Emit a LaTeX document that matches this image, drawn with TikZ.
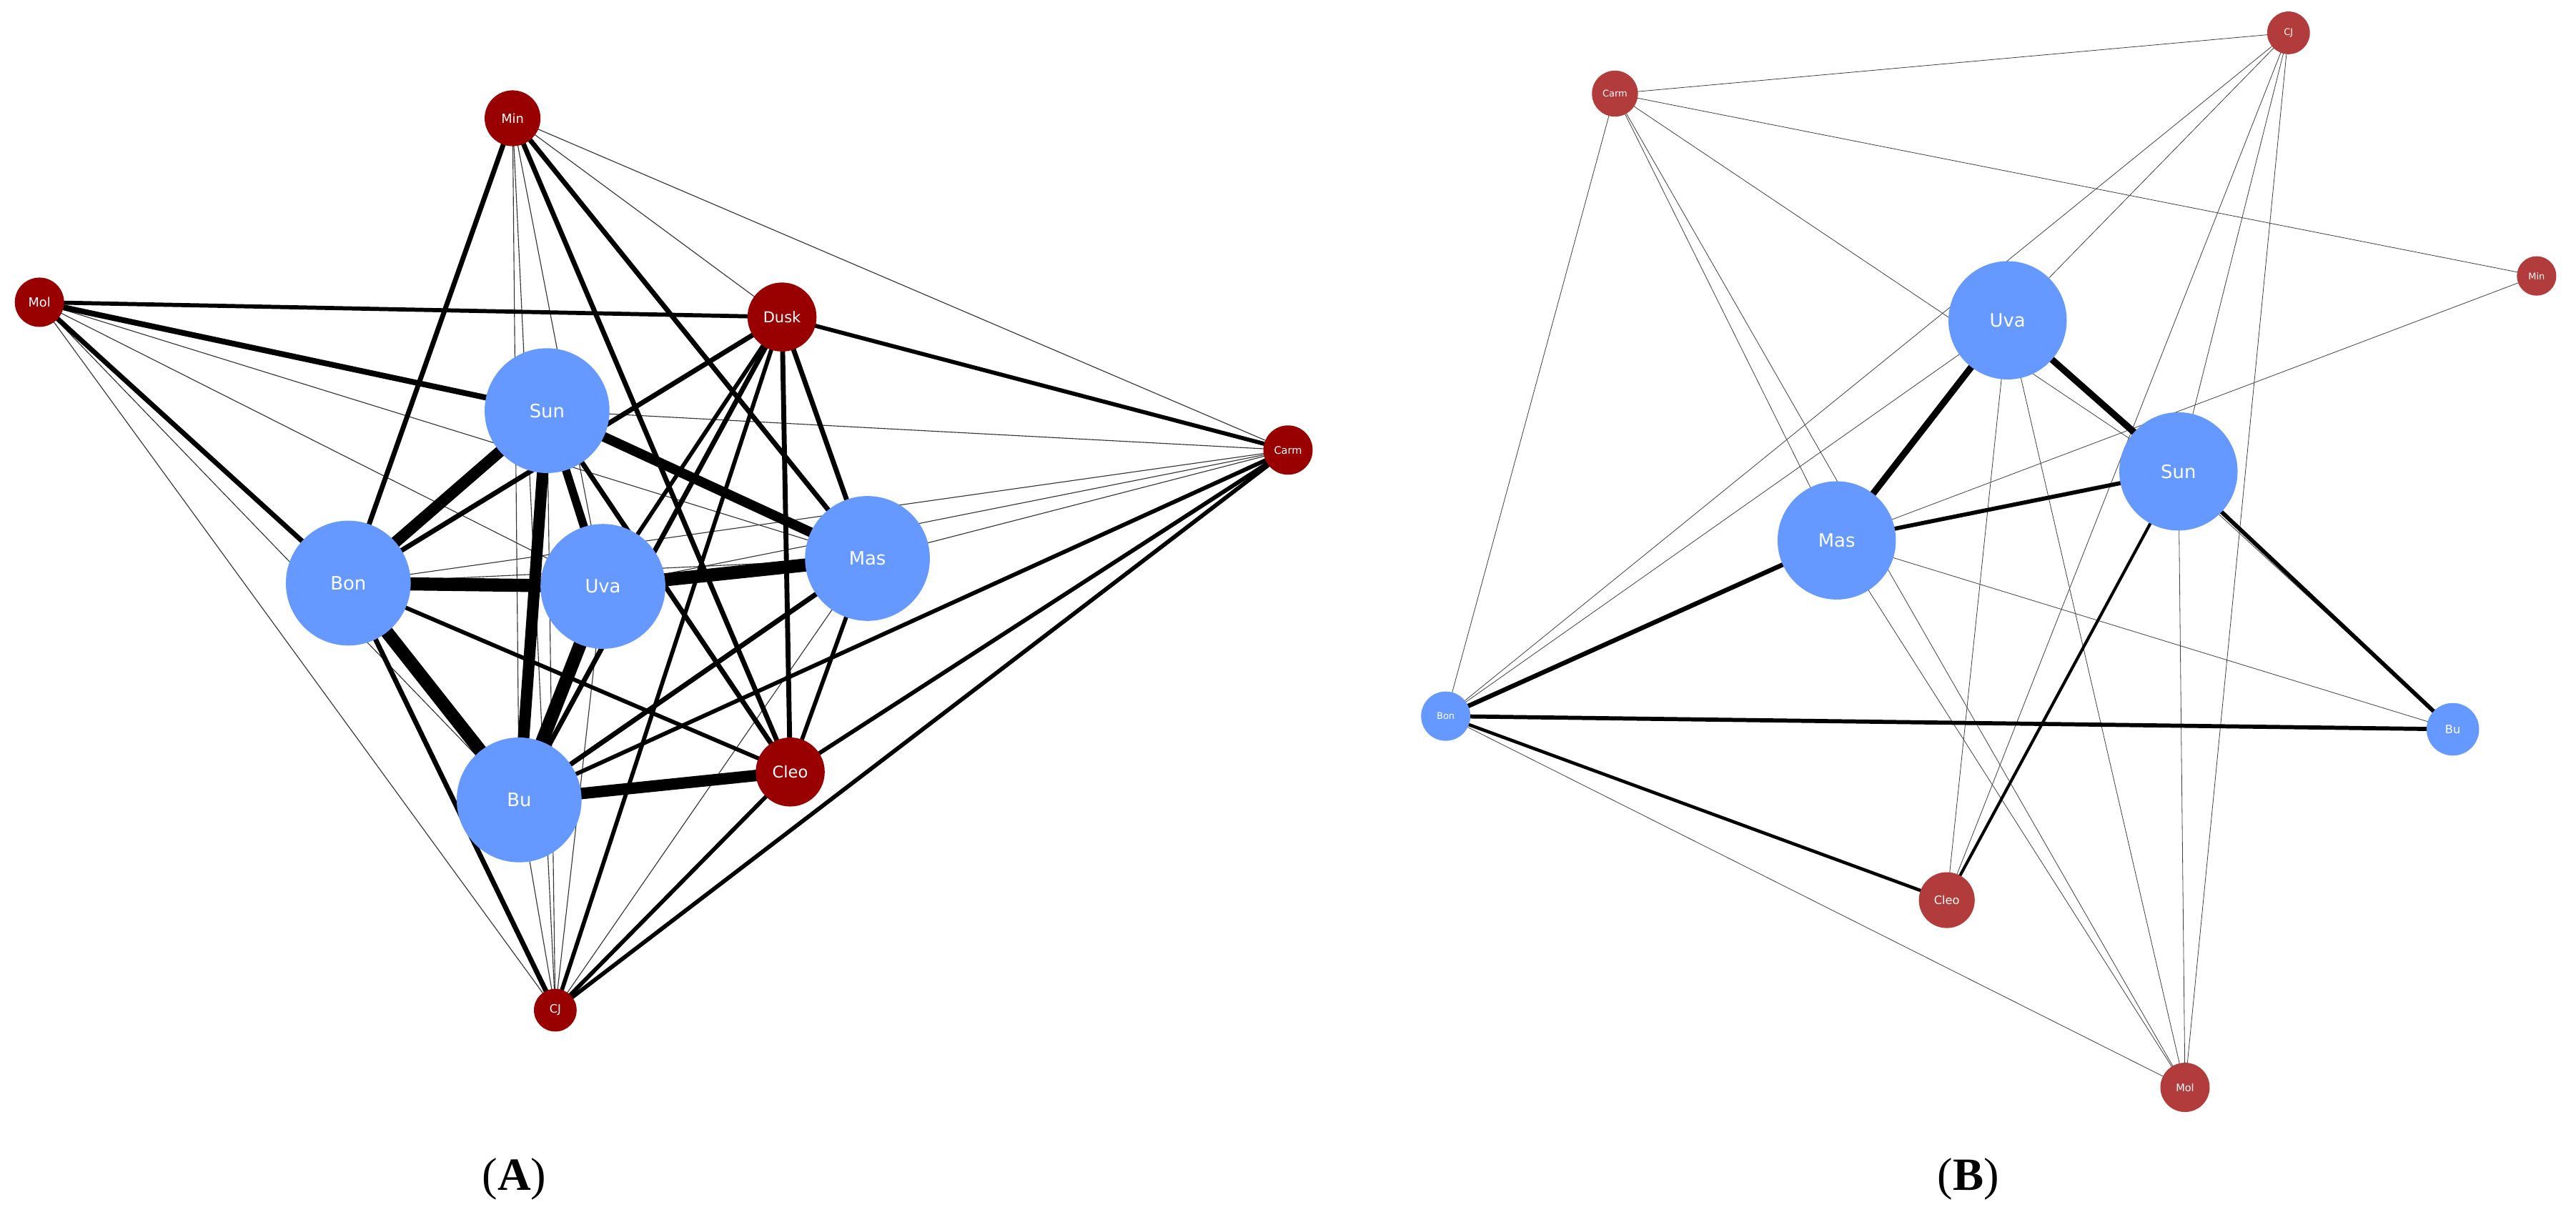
\documentclass[tikz,border=0pt]{standalone}
\usepackage{fontspec}
\setmainfont{Liberation Serif}
\newfontfamily\lab{DejaVu Sans}
\definecolor{bl}{HTML}{6699FF}
\definecolor{ra}{HTML}{990000}
\definecolor{rb}{HTML}{B23B3B}
\begin{document}
\begin{tikzpicture}[x=0.05cm,y=-0.05cm,
 nd/.style={circle,inner sep=0pt,text=white,font=\lab\fontsize{#1}{#1}\selectfont},
 e/.style={line width=#1*1.42pt,black},
 t/.style={line width=0.7pt,black!80}]
\useasboundingbox (0,0) rectangle (1568,740.5);
\begin{scope}[on background layer/.style={}]
% panel A nodes coordinates
\coordinate (Min) at (312,72); \coordinate (Dusk) at (476,193);
\coordinate (Mol) at (24,184); \coordinate (Sun) at (333,250);
\coordinate (Carm) at (784,274); \coordinate (Mas) at (528,340);
\coordinate (Uva) at (367,357); \coordinate (Bon) at (212,355);
\coordinate (Cleo) at (481,470); \coordinate (Bu) at (316,487);
\coordinate (CJ) at (338,615);
\foreach \a/\b in {Min/Carm,Min/Bu,Min/CJ,Min/Uva,Min/Dusk,Mol/Mas,Mol/Uva,Mol/CJ,Mol/Bu,Sun/Carm,Sun/CJ,Carm/Mas,Carm/Bon,Carm/Uva,Mas/Bon,Mas/CJ,Uva/CJ,Bu/CJ}
 \draw[t] (\a) -- (\b);
\foreach \a/\b/\w in {Min/Bon/3,Min/Cleo/3,Min/Mas/3,Mol/Dusk/2.5,Mol/Sun/3.5,Mol/Bon/3,Dusk/Carm/2.5,Dusk/Bon/3,Dusk/Bu/3,Dusk/Mas/3,Dusk/Cleo/3,Dusk/CJ/2.5,Dusk/Uva/2.5,Sun/Mas/6,Sun/Bon/7,Sun/Bu/7,Sun/Uva/5,Sun/Cleo/3,Carm/Cleo/2.5,Carm/Bu/2.5,Carm/CJ/2.5,Mas/Uva/8,Mas/Bu/3,Mas/Cleo/2.5,Uva/Bon/8,Uva/Bu/8,Bon/Bu/8,Bon/Cleo/2.5,Bon/CJ/3,Bu/Cleo/7,Cleo/CJ/2.5}
 \draw[e=\w] (\a) -- (\b);
\foreach \n/\r/\c/\f in {Min/17/ra/11,Dusk/21/ra/13,Mol/15/ra/11,Carm/15/ra/9,Cleo/21/ra/14,CJ/13/ra/10,Sun/38/bl/16,Mas/38/bl/16,Uva/38/bl/16,Bon/38/bl/16,Bu/38/bl/16}
 \node[nd=\f,fill=\c,minimum size=2*\r*0.05cm] (A\n) at (\n) {\n};
\end{scope}
\begin{scope}
\coordinate (bCarm) at (983,57); \coordinate (bCJ) at (1393,20);
\coordinate (bMin) at (1544,168); \coordinate (bUva) at (1222,195);
\coordinate (bSun) at (1326,287); \coordinate (bMas) at (1118,329);
\coordinate (bBon) at (880,436); \coordinate (bBu) at (1493,444);
\coordinate (bCleo) at (1185,548); \coordinate (bMol) at (1330,662);
\foreach \a/\b in {Carm/CJ,Carm/Min,Carm/Bon,Carm/Mas,Carm/Sun,Carm/Mol,CJ/Bon,CJ/Uva,CJ/Sun,CJ/Cleo,CJ/Mol,Min/Mas,Uva/Bon,Uva/Cleo,Uva/Bu,Uva/Mol,Sun/Mol,Mas/Bu,Mas/Mol,Bon/Mol}
 \draw[line width=0.5pt,black!75] (b\a) -- (b\b);
\foreach \a/\b/\w in {Uva/Mas/4,Uva/Sun/4,Sun/Mas/2.5,Sun/Bu/2.5,Sun/Cleo/1.8,Mas/Bon/2.8,Bon/Bu/2.5,Bon/Cleo/2}
 \draw[e=\w] (b\a) -- (b\b);
\foreach \n/\r/\c/\f in {Carm/14/rb/8,CJ/13/rb/8,Min/12/rb/8,Cleo/17/rb/10,Mol/15/rb/9,Uva/36/bl/16,Sun/36/bl/16,Mas/36/bl/16,Bon/15/bl/8,Bu/16/bl/10}
 \node[nd=\f,fill=\c,minimum size=2*\r*0.05cm] (B\n) at (b\n) {\n};
\end{scope}
\node[font=\fontsize{40}{40}\selectfont] (la) at (313,718) {(\textbf{A})};
\node[font=\fontsize{40}{40}\selectfont] (lb) at (1198,718) {(\textbf{B})};
\end{tikzpicture}
\end{document}
